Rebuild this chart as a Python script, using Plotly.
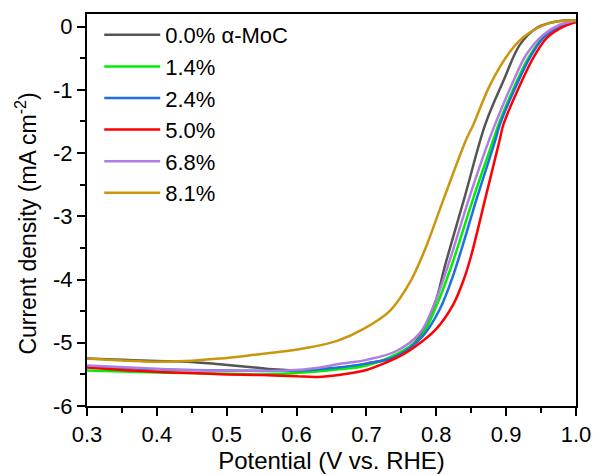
import plotly.graph_objects as go

names = ["0.0% α-MoC", "1.4%", "2.4%", "5.0%", "6.8%", "8.1%"]
colors = ["#555555", "#00ee00", "#1f6fe0", "#ff0000", "#b07ee0", "#c9960c"]

v_gray = [0.30, 0.35, 0.40, 0.443, 0.49, 0.54, 0.567, 0.61, 0.65, 0.70, 0.743, 0.777, 0.80, 0.812, 0.841, 0.870, 0.896, 0.92, 0.944, 0.972, 1.0]
j_gray = [-5.25, -5.27, -5.29, -5.30, -5.34, -5.39, -5.42, -5.44, -5.41, -5.33, -5.21, -4.89, -4.31, -3.80, -2.68, -1.55, -0.86, -0.28, -0.02, 0.08, 0.10]

v_green = [0.30, 0.40, 0.50, 0.55, 0.60, 0.66, 0.70, 0.743, 0.777, 0.80, 0.82, 0.854, 0.882, 0.889, 0.913, 0.932, 0.952, 0.976, 1.0]
j_green = [-5.44, -5.47, -5.49, -5.50, -5.48, -5.42, -5.36, -5.18, -4.92, -4.42, -3.84, -2.68, -1.78, -1.55, -0.92, -0.49, -0.18, 0.00, 0.08]

v_blue = [0.30, 0.40, 0.50, 0.60, 0.65, 0.70, 0.743, 0.781, 0.805, 0.824, 0.859, 0.885, 0.891, 0.915, 0.934, 0.953, 0.977, 1.0]
j_blue = [-5.37, -5.42, -5.44, -5.44, -5.40, -5.33, -5.21, -4.89, -4.47, -3.94, -2.68, -1.78, -1.55, -0.92, -0.49, -0.18, 0.00, 0.08]

v_red = [0.30, 0.35, 0.40, 0.45, 0.50, 0.55, 0.60, 0.63, 0.66, 0.70, 0.72, 0.75, 0.77, 0.80, 0.824, 0.84, 0.85, 0.871, 0.891, 0.896, 0.92, 0.939, 0.958, 0.982, 1.0]
j_red = [-5.39, -5.43, -5.46, -5.48, -5.50, -5.51, -5.53, -5.54, -5.51, -5.43, -5.35, -5.20, -5.06, -4.78, -4.40, -3.98, -3.62, -2.68, -1.78, -1.55, -0.92, -0.49, -0.18, 0.00, 0.07]

v_purple = [0.30, 0.40, 0.443, 0.50, 0.586, 0.634, 0.658, 0.70, 0.743, 0.777, 0.796, 0.815, 0.848, 0.876, 0.884, 0.908, 0.929, 0.953, 0.977, 1.0]
j_purple = [-5.36, -5.41, -5.43, -5.44, -5.44, -5.39, -5.34, -5.27, -5.13, -4.84, -4.42, -3.84, -2.68, -1.78, -1.55, -0.92, -0.44, -0.13, 0.03, 0.09]

v_gold = [0.30, 0.35, 0.395, 0.44, 0.49, 0.54, 0.586, 0.62, 0.658, 0.696, 0.734, 0.762, 0.784, 0.812, 0.843, 0.853, 0.877, 0.906, 0.929, 0.963, 1.0]
j_gold = [-5.25, -5.28, -5.30, -5.29, -5.25, -5.19, -5.13, -5.07, -4.97, -4.78, -4.49, -4.05, -3.52, -2.68, -1.78, -1.55, -0.92, -0.39, -0.13, 0.06, 0.10]

xs = [v_gray, v_green, v_blue, v_red, v_purple, v_gold]
ys = [j_gray, j_green, j_blue, j_red, j_purple, j_gold]

x_ticks = [0.3, 0.4, 0.5, 0.6, 0.7, 0.8, 0.9, 1.0]
x_tick_labels = ["0.3", "0.4", "0.5", "0.6", "0.7", "0.8", "0.9", "1.0"]
y_ticks = [-6, -5, -4, -3, -2, -1, 0]
y_tick_labels = ["-6", "-5", "-4", "-3", "-2", "-1", "0"]

fig = go.Figure()
for i in range(len(names)):
    fig.add_trace(go.Scatter(
        x=xs[i], y=ys[i], mode="lines", name=names[i],
        line=dict(color=colors[i], width=2.5, shape="spline", smoothing=1.0),
        legendgroup=str(i),
    ))

font = "Liberation Sans, Arial, sans-serif"
axis_common = dict(
    showline=True, linecolor="black", linewidth=2, mirror=True,
    ticks="outside", ticklen=8, tickwidth=2, tickcolor="black",
    showgrid=False, zeroline=False, automargin=False,
    tickfont=dict(family=font, size=22, color="black"),
)
fig.update_xaxes(
    range=[0.3, 1.0], tickvals=x_ticks, ticktext=x_tick_labels,
    minor=dict(dtick=0.05, ticks="outside", ticklen=5, tickwidth=2, tickcolor="black"),
    title=dict(text="Potential (V vs. RHE)", font=dict(family=font, size=24, color="black"), standoff=1),
    **axis_common,
)
fig.update_yaxes(
    range=[-6, 0.2], tickvals=y_ticks, ticktext=y_tick_labels,
    minor=dict(dtick=0.5, ticks="outside", ticklen=5, tickwidth=2, tickcolor="black"),
    **axis_common,
)
fig.add_annotation(
    text="Current density (mA cm<sup>-2</sup>)", textangle=-90,
    xref="paper", yref="paper", x=-0.125, y=0.465, xanchor="center", yanchor="middle",
    showarrow=False, font=dict(family=font, size=23, color="black"),
)
fig.update_layout(
    width=595, height=475,
    margin=dict(l=87, r=19, t=14, b=69),
    paper_bgcolor="white", plot_bgcolor="white",
    showlegend=True,
    legend=dict(
        x=0.025, y=1.0, xanchor="left", yanchor="top",
        bgcolor="rgba(0,0,0,0)", borderwidth=0,
        font=dict(family=font, size=22, color="black"),
        tracegroupgap=0, itemwidth=56,
    ),
)
fig.write_html("out.html")
